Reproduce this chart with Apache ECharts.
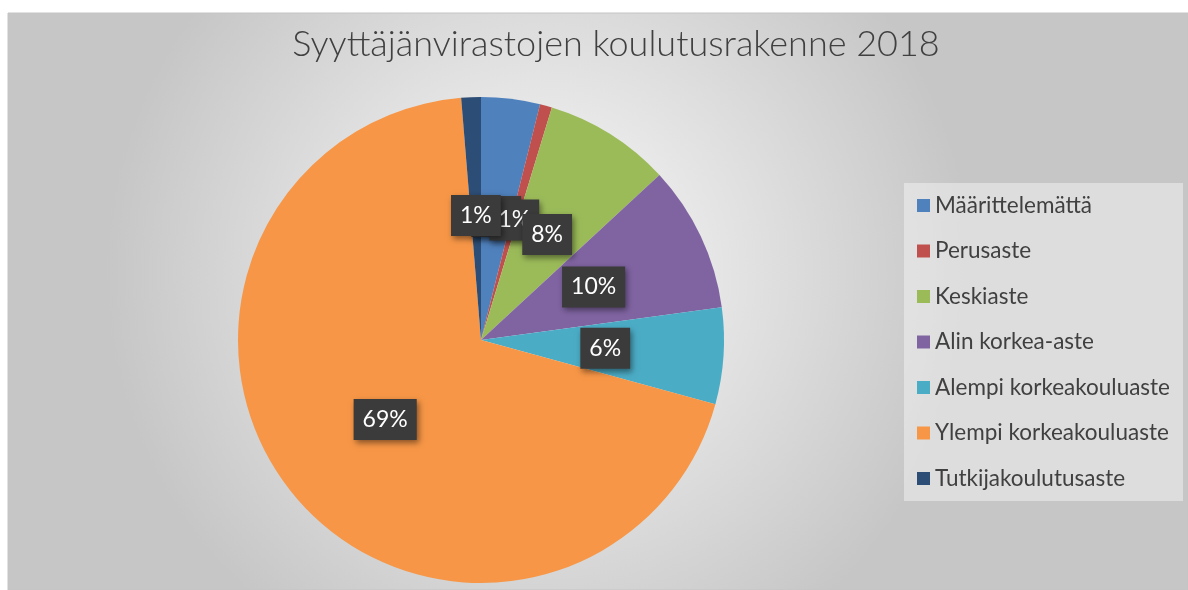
<!DOCTYPE html>
<html>
<head>
<meta charset="utf-8">
<script src="https://cdn.jsdelivr.net/npm/echarts@6/dist/echarts.min.js"></script>
<style>
  html, body { margin: 0; padding: 0; background: #fff; }
  #chart { width: 1188px; height: 590px; }
</style>
</head>
<body>
<div id="chart"></div>
<script>
// 数据
const categories = ['Määrittelemättä', 'Perusaste', 'Keskiaste', 'Alin korkea-aste',
  'Alempi korkeakouluaste', 'Ylempi korkeakouluaste', 'Tutkijakoulutusaste'];
const shares = [3.9, 0.8, 8.4, 9.7, 6.4, 69.3, 1.3];
const colors = ['#4f81bd', '#c0504d', '#9bbb59', '#8064a2', '#4bacc6', '#f79646', '#2c4d75'];

const chart = echarts.init(document.getElementById('chart'));

let option = {
  animation: false,
  title: {
    text: 'Syyttäjänvirastojen koulutusrakenne 2018',
    left: 611,
    top: 21,
    textAlign: 'center',
    textStyle: {
      color: '#404040',
      fontFamily: 'Lato',
      fontWeight: 300,
      fontSize: 36
    }
  },
  graphic: [{
    type: 'rect',
    z: -10,
    silent: true,
    shape: { x: 8, y: 13, width: 1180, height: 577 },
    style: {
      fill: {
        type: 'radial', x: 0.45, y: 0.45, r: 0.75,
        colorStops: [
          { offset: 0, color: '#fbfbfb' },
          { offset: 1, color: '#c6c6c6' }
        ]
      },
      stroke: '#c4c4c4',
      lineWidth: 1
    }
  }],
  legend: {
    orient: 'vertical',
    left: 904,
    top: 183,
    padding: [11, 13, 11, 13],
    itemGap: 22.5,
    itemWidth: 13,
    itemHeight: 13,
    icon: 'rect',
    backgroundColor: 'rgba(255,255,255,0.4)',
    textStyle: {
      color: '#404040',
      fontFamily: 'Lato',
      fontSize: 22.5,
      lineHeight: 20
    },
    data: categories
  },
  series: [{
    type: 'pie',
    center: [481, 340],
    radius: 243,
    startAngle: 90,
    clockwise: true,
    avoidLabelOverlap: false,
    labelLayout: { hideOverlap: false },
    color: colors,
    label: {
      show: true,
      position: 'inside',
      formatter: p => Math.round(p.percent) + '%',
      color: '#ffffff',
      fontFamily: 'Lato',
      fontSize: 23,
      backgroundColor: '#3b3b3b',
      padding: [10, 9, 8, 9],
      shadowColor: 'rgba(0,0,0,0.45)',
      shadowBlur: 6,
      shadowOffsetX: 2,
      shadowOffsetY: 3
    },
    labelLine: { show: false },
    itemStyle: { borderWidth: 0 },
    emphasis: { disabled: true },
    data: categories.map((name, i) => ({ name: name, value: shares[i] }))
  }]
};

chart.setOption(option);
</script>
</body>
</html>
